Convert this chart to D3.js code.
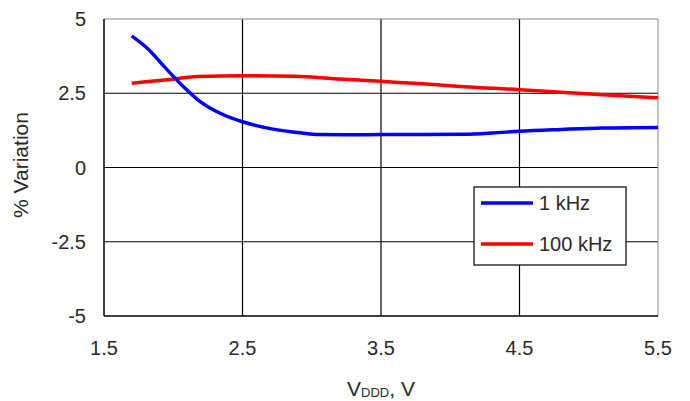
<!DOCTYPE html>
<html><head><meta charset="utf-8">
<script src="https://cdn.jsdelivr.net/npm/d3@7"></script>
<style>body{margin:0;background:#fff}svg{display:block}</style>
</head><body>
<svg id="c" width="690" height="401"></svg>
<script>
const xTicks = [1.5, 2.5, 3.5, 4.5, 5.5];
const yTicks = [-5, -2.5, 0, 2.5, 5];
const yTickLabels = ["-5", "-2.5", "0", "2.5", "5"];
const vdd = [1.7, 1.82, 1.94, 2.08, 2.18, 2.35, 2.5, 2.71, 2.93, 3.05, 3.3, 3.5, 3.8, 4.1, 4.3, 4.5, 4.8, 5.1, 5.5];
const var1k = [4.43, 3.98, 3.37, 2.69, 2.27, 1.80, 1.54, 1.30, 1.16, 1.11, 1.10, 1.11, 1.11, 1.12, 1.16, 1.22, 1.28, 1.33, 1.35];
const vdd100 = [1.7, 1.94, 2.18, 2.5, 2.88, 3.2, 3.5, 3.8, 4.1, 4.5, 4.8, 5.1, 5.5];
const var100k = [2.84, 2.95, 3.06, 3.09, 3.07, 2.98, 2.90, 2.82, 2.72, 2.62, 2.53, 2.45, 2.35];
const seriesNames = ["1 kHz", "100 kHz"];
const colors = ["#0000ff", "#ff0000"];

const svg = d3.select("#c");
const L = 104, R = 658, T = 19, B = 316;
const x = d3.scaleLinear().domain([1.5, 5.5]).range([L, R]);
const y = d3.scaleLinear().domain([-5, 5]).range([B, T]);
const font = "'Liberation Sans', Arial, sans-serif";
const tc = "#2a2a2a";

// grid
svg.append("g").selectAll("line").data(xTicks.slice(1, -1)).join("line")
  .attr("x1", d => x(d)).attr("x2", d => x(d)).attr("y1", T).attr("y2", B)
  .attr("stroke", "#000").attr("stroke-width", 1.2);
svg.append("g").selectAll("line").data(yTicks.slice(1, -1)).join("line")
  .attr("x1", L).attr("x2", R).attr("y1", d => y(d)).attr("y2", d => y(d))
  .attr("stroke", "#000").attr("stroke-width", 1.2);
// frame
svg.append("line").attr("x1", L).attr("x2", R).attr("y1", T).attr("y2", T).attr("stroke", "#888").attr("stroke-width", 1);
svg.append("line").attr("x1", R).attr("x2", R).attr("y1", T).attr("y2", B).attr("stroke", "#888").attr("stroke-width", 1);
svg.append("line").attr("x1", L).attr("x2", L).attr("y1", T).attr("y2", B).attr("stroke", "#000").attr("stroke-width", 1.5);
svg.append("line").attr("x1", L).attr("x2", R).attr("y1", B).attr("y2", B).attr("stroke", "#000").attr("stroke-width", 1.5);

// tick labels
svg.append("g").selectAll("text").data(yTicks).join("text")
  .attr("x", 86).attr("y", d => y(d) + 7).attr("text-anchor", "end")
  .attr("font-family", font).attr("font-size", 20).attr("fill", tc)
  .text((d, i) => yTickLabels[i]);
svg.append("g").selectAll("text").data(xTicks).join("text")
  .attr("x", d => x(d)).attr("y", 355).attr("text-anchor", "middle")
  .attr("font-family", font).attr("font-size", 20).attr("fill", tc)
  .text(d => d.toFixed(1));

svg.append("text").attr("transform", "translate(28,165) rotate(-90)")
  .attr("text-anchor", "middle").attr("font-family", font).attr("font-size", 21).attr("fill", tc)
  .text("% Variation");
const xt = svg.append("text").attr("x", 381).attr("y", 396).attr("text-anchor", "middle")
  .attr("font-family", font).attr("font-size", 21).attr("fill", tc);
xt.append("tspan").text("V");
xt.append("tspan").attr("font-size", 13).attr("dy", 1).text("DDD");
xt.append("tspan").attr("dy", -1).text(", V");

// lines
const line = d3.line().x(d => x(d[0])).y(d => y(d[1])).curve(d3.curveMonotoneX);
const s1 = vdd.map((v, i) => [v, var1k[i]]);
const s2 = vdd100.map((v, i) => [v, var100k[i]]);
svg.append("path").datum(s2).attr("d", line).attr("fill", "none").attr("stroke", colors[1]).attr("stroke-width", 3.5);
svg.append("path").datum(s1).attr("d", line).attr("fill", "none").attr("stroke", colors[0]).attr("stroke-width", 3.5);

// legend
const lg = svg.append("g");
lg.append("rect").attr("x", 474).attr("y", 187).attr("width", 152).attr("height", 78)
  .attr("fill", "#fff").attr("stroke", "#000").attr("stroke-width", 1.2);
const ly = [203, 244];
seriesNames.forEach((n, i) => {
  lg.append("line").attr("x1", 481).attr("x2", 533).attr("y1", ly[i]).attr("y2", ly[i])
    .attr("stroke", colors[i]).attr("stroke-width", 3.5);
  lg.append("text").attr("x", 539).attr("y", ly[i] + 7).attr("font-family", font)
    .attr("font-size", 20).attr("fill", tc).text(n);
});
</script>
</body></html>
